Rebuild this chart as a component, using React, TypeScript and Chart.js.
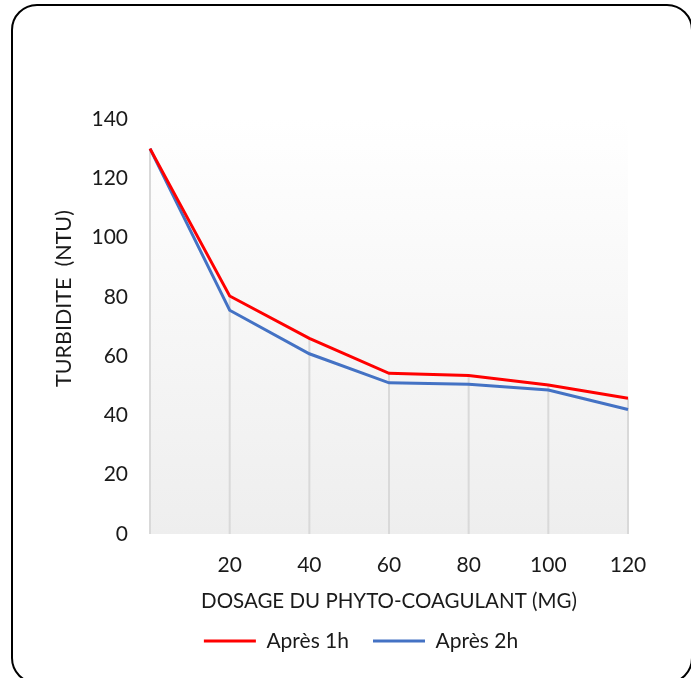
import React, { useEffect, useRef } from "react";
import { Chart, registerables } from "chart.js";

Chart.register(...registerables);

const categories = ["", "20", "40", "60", "80", "100", "120"];
const apres1h = [130, 80.3, 66, 54.2, 53.5, 50.3, 45.8];
const apres2h = [130, 75.5, 60.8, 51.0, 50.5, 48.6, 42.0];
const yTicks = [0, 20, 40, 60, 80, 100, 120, 140];
const yTitle = "TURBIDITE  (NTU)";
const xTitle = "DOSAGE DU PHYTO-COAGULANT (MG)";

const FONT = "Lato";
const TEXT = "#1a1a1a";

const bgPlugin = {
  id: "bgGradient",
  beforeDraw(chart: any) {
    const { ctx, chartArea } = chart;
    const g = ctx.createLinearGradient(0, chartArea.top, 0, chartArea.bottom);
    g.addColorStop(0, "#ffffff");
    g.addColorStop(1, "#eeeeee");
    ctx.save();
    ctx.fillStyle = g;
    ctx.fillRect(chartArea.left, chartArea.top, chartArea.right - chartArea.left, chartArea.bottom - chartArea.top);
    ctx.restore();
  },
};

const dropLinePlugin = {
  id: "dropLines",
  beforeDatasetsDraw(chart: any) {
    const { ctx, chartArea, scales } = chart;
    const xs = scales.x;
    const ys = scales.y;
    ctx.save();
    ctx.strokeStyle = "#d9d9d9";
    ctx.lineWidth = 2;
    categories.forEach((_, i) => {
      const maxV = Math.max(...chart.data.datasets.map((d: any) => d.data[i]));
      const x = xs.getPixelForValue(i);
      ctx.beginPath();
      ctx.moveTo(x, ys.getPixelForValue(maxV));
      ctx.lineTo(x, chartArea.bottom);
      ctx.stroke();
    });
    ctx.restore();
  },
};

const yTitlePlugin = {
  id: "yTitle",
  afterDraw(chart: any) {
    const { ctx } = chart;
    ctx.save();
    ctx.translate(64, 298.5);
    ctx.rotate(-Math.PI / 2);
    ctx.fillStyle = TEXT;
    ctx.font = `21.5px ${FONT}`;
    ctx.textAlign = "center";
    ctx.textBaseline = "middle";
    ctx.fillText(yTitle, 0, 0);
    ctx.restore();
  },
};

const legendShiftPlugin = {
  id: "legendShift",
  afterLayout(chart: any) {
    const lg = chart.legend;
    if (!lg) return;
    const dx = 47;
    const dy = -14.5;
    lg.left += dx;
    lg.right += dx;
    lg.top += dy;
    lg.bottom += dy;
  },
};

export default function App() {
  const ref = useRef<HTMLCanvasElement>(null);
  useEffect(() => {
    document.body.style.margin = "0";
    document.body.style.overflow = "hidden";
    const chart = new Chart(ref.current!, {
      type: "line",
      data: {
        labels: categories,
        datasets: [
          {
            label: "Après 1h",
            data: apres1h,
            borderColor: "#ff0000",
            backgroundColor: "#ff0000",
            borderWidth: 3,
            pointRadius: 0,
            tension: 0,
          },
          {
            label: "Après 2h",
            data: apres2h,
            borderColor: "#4472c4",
            backgroundColor: "#4472c4",
            borderWidth: 3,
            pointRadius: 0,
            tension: 0,
          },
        ],
      },
      options: {
        responsive: false,
        animation: false,
        layout: { padding: { left: 0, right: 63, top: 119, bottom: 2 } },
        plugins: {
          tooltip: { enabled: false },
          legend: {
            position: "bottom",
            labels: {
              usePointStyle: true,
              pointStyle: "line",
              pointStyleWidth: 52,
              boxHeight: 21,
              padding: 24,
              color: TEXT,
              font: { family: FONT, size: 21 },
            },
          },
        },
        scales: {
          x: {
            offset: false,
            grid: { display: false, drawTicks: false },
            border: { display: false },
            ticks: { color: TEXT, font: { family: FONT, size: 21 }, padding: 19, maxRotation: 0 },
            title: {
              display: true,
              text: xTitle,
              color: TEXT,
              font: { family: FONT, size: 20.5 },
              padding: { top: 0, bottom: 7.5 },
            },
            afterFit(scale: any) {
              scale.height = 87;
            },
          },
          y: {
            min: 0,
            max: 140,
            afterBuildTicks(scale: any) {
              scale.ticks = yTicks.map((v) => ({ value: v }));
            },
            grid: { display: false, drawTicks: false },
            border: { display: false },
            ticks: { color: TEXT, font: { family: FONT, size: 21 }, padding: 22 },
            title: { display: false },
            afterFit(scale: any) {
              scale.width = 150;
            },
          },
        },
      },
      plugins: [bgPlugin, dropLinePlugin, yTitlePlugin, legendShiftPlugin],
    });
    return () => chart.destroy();
  }, []);
  return (
    <div style={{ position: "relative", width: 691, height: 678, overflow: "hidden", background: "#fff" }}>
      <canvas ref={ref} width={691} height={678} style={{ display: "block" }} />
      <div
        style={{
          position: "absolute",
          left: 11,
          top: 4,
          width: 682,
          height: 680,
          border: "2px solid #000",
          borderRadius: 26,
          pointerEvents: "none",
          boxSizing: "border-box",
        }}
      />
    </div>
  );
}
